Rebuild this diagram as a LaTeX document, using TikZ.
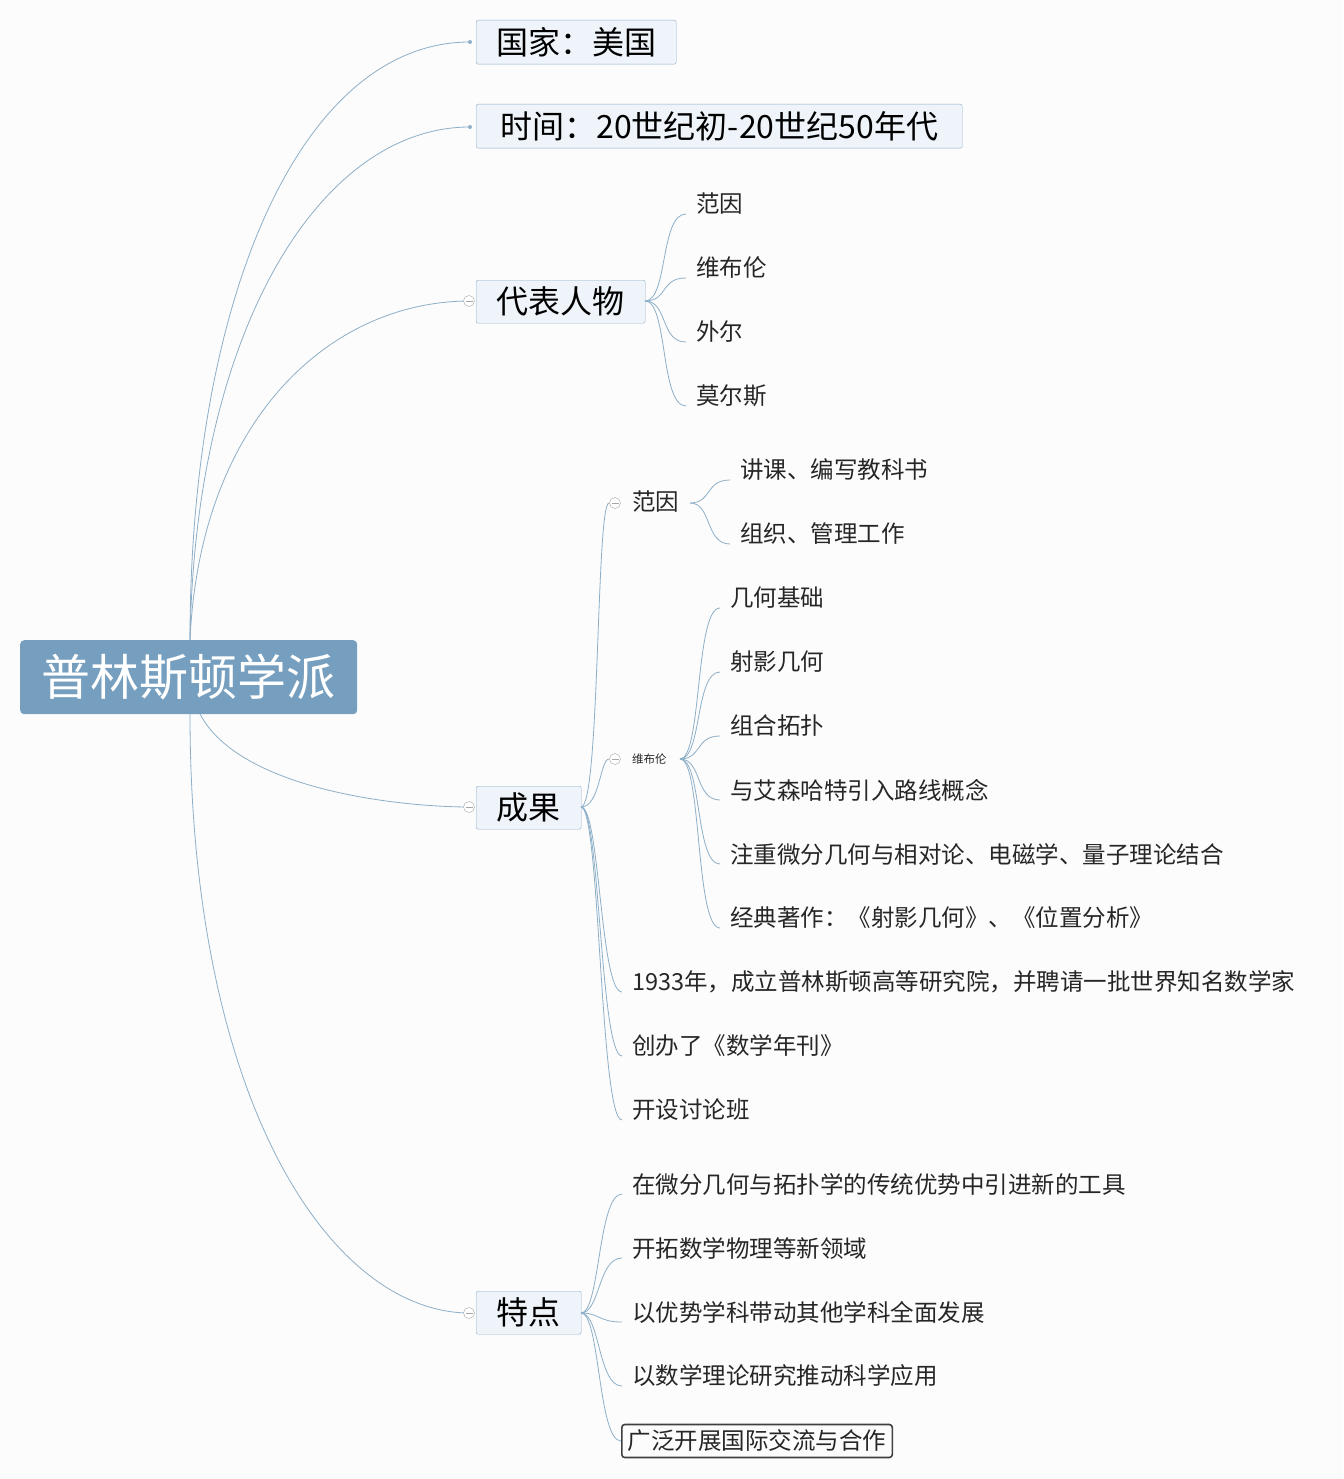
\documentclass[tikz,border=0pt]{standalone}
\usepackage{fontspec}
\setmainfont{Noto Sans CJK SC}
\begin{document}
\begin{tikzpicture}[x=1pt,y=-1pt,
  lv1/.style={draw=lnc,fill=boxf,rounded corners=2pt,font=\fontsize{32}{34}\selectfont,inner sep=0pt,anchor=north west},
  leaf/.style={font=\fontsize{23.5}{25}\selectfont,anchor=west,inner sep=0pt,text=black!85},
  tog/.style={circle,draw=gray!70,fill=white,minimum size=11pt,inner sep=0pt},
  con/.style={draw=lnc,line width=0.8pt}]
\definecolor{lnc}{HTML}{8DAFC8}
\definecolor{boxf}{HTML}{EEF4F9}
\definecolor{rootf}{HTML}{769FBF}
\definecolor{bg}{HTML}{FCFCFC}
\fill[bg] (0,0) rectangle (1343,1479);
\useasboundingbox (0,0) rectangle (1343,1479);
% root
\node[fill=rootf,rounded corners=4pt,minimum width=337pt,minimum height=74pt,anchor=north west,text=white,font=\fontsize{49}{51}\selectfont,inner sep=0pt] (root) at (20,640) {普林斯顿学派};
% level 1
\node[lv1,minimum width=200pt,minimum height=44pt] (guo) at (476,20) {国家：美国};
\node[lv1,minimum width=486pt,minimum height=44pt] (shi) at (476,104) {时间：20世纪初-20世纪50年代};
\node[lv1,minimum width=169pt,minimum height=43pt] (dai) at (476,280) {代表人物};
\node[lv1,minimum width=105pt,minimum height=43pt] (cg) at (476,786) {成果};
\node[lv1,minimum width=105pt,minimum height=43pt] (td) at (476,1291) {特点};
% root connectors
\draw[con] (190,640) .. controls (190,300) and (300,42) .. (470,42);
\draw[con] (190,640) .. controls (195,330) and (320,127) .. (470,127);
\draw[con] (190,640) .. controls (200,420) and (330,301) .. (470,301);
\draw[con] (200,714) .. controls (240,790) and (400,807) .. (470,807);
\draw[con] (190,714) .. controls (190,1100) and (330,1313) .. (470,1313);
\fill[lnc] (470,42) circle (2pt);
\fill[lnc] (470,127) circle (2pt);
\node[tog] (t1) at (469,301) {};
\node[tog] (t2) at (469,807) {};
\node[tog] (t3) at (469,1313) {};
\foreach \n in {t1,t2,t3} \draw[gray!70,line width=0.7pt] ([xshift=-3.5pt]\n.center) -- ([xshift=3.5pt]\n.center);
% 代表人物 children
\foreach \t/\y in {范因/204,维布伦/268,外尔/332,莫尔斯/396}{
  \node[leaf] at (696,\y) {\t};
  \draw[con] (645,301) .. controls (668,301) and (660,{\y+10}) .. (686,{\y+10});
}
% 成果 children
\node[tog] (t4) at (615,503) {};
\node[tog] (t5) at (615,759) {};
\foreach \n in {t4,t5} \draw[gray!70,line width=0.7pt] ([xshift=-3.5pt]\n.center) -- ([xshift=3.5pt]\n.center);
\node[leaf] (fy) at (632,502) {范因};
\node[leaf,font=\fontsize{11.5}{12}\selectfont] (wbl) at (632,759) {维布伦};
\draw[con] (581,807) .. controls (600,807) and (596,503) .. (609,503);
\draw[con] (581,807) .. controls (600,807) and (600,759) .. (609,759);
\foreach \t/\y in {{1933年，成立普林斯顿高等研究院，并聘请一批世界知名数学家}/982,创办了《数学年刊》/1046,开设讨论班/1110}{
  \node[leaf] at (632,\y) {\t};
  \draw[con] (581,807) .. controls (600,807) and (600,{\y+10}) .. (622,{\y+10});
}
\foreach \t/\y in {讲课、编写教科书/470,组织、管理工作/534}{
  \node[leaf] at (740,\y) {\t};
  \draw[con] (690,503) .. controls (712,503) and (705,{\y+10}) .. (730,{\y+10});
}
\foreach \t/\y in {几何基础/598,射影几何/662,组合拓扑/726,与艾森哈特引入路线概念/790,注重微分几何与相对论、电磁学、量子理论结合/854,经典著作：《射影几何》、《位置分析》/918}{
  \node[leaf] at (730,\y) {\t};
  \draw[con] (680,759) .. controls (702,759) and (695,{\y+10}) .. (720,{\y+10});
}
% 特点 children
\foreach \t/\y in {在微分几何与拓扑学的传统优势中引进新的工具/1184,开拓数学物理等新领域/1248,以优势学科带动其他学科全面发展/1312,以数学理论研究推动科学应用/1376}{
  \node[leaf] at (632,\y) {\t};
  \draw[con] (581,1313) .. controls (600,1313) and (598,{\y+10}) .. (622,{\y+10});
}
\node[leaf,draw=black!75,line width=1.6pt,rounded corners=3pt,inner xsep=6pt,minimum height=33pt] (last) at (621,1441) {广泛开展国际交流与合作};
\draw[con] (581,1313) .. controls (600,1313) and (598,1441) .. (last.west);
\end{tikzpicture}
\end{document}
